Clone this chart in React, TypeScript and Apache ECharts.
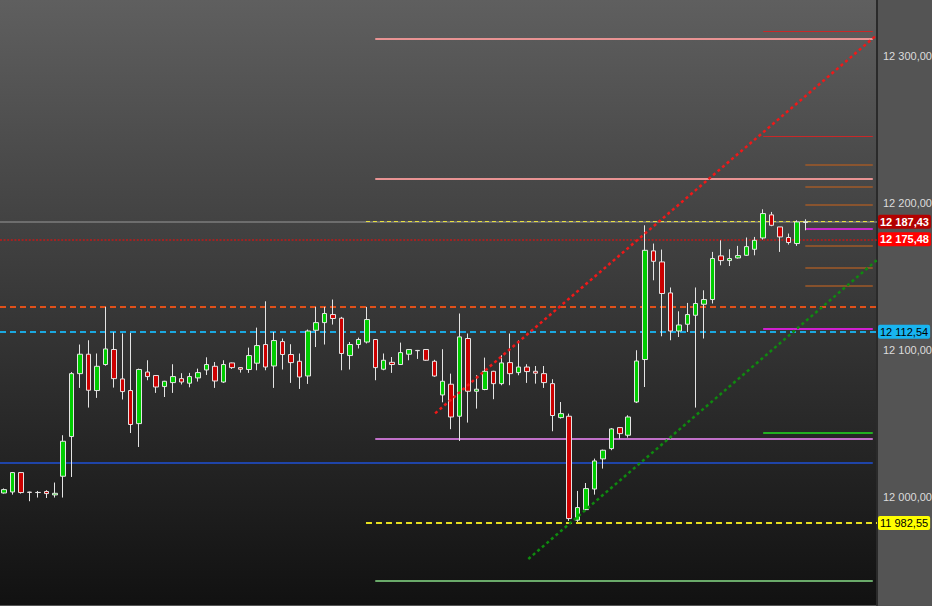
import React, { useEffect, useRef } from "react";
import * as echarts from "echarts";

// ---- data ----
const categories: string[] = [];
for (let i = 0; i < 104; i++) categories.push(String(i));

const opens = [
  12002.9, 12003.6, 12016.8, 12003.5, 12003.3, 12003.9, 12001.6, 12014.3, 12041.3, 12084.1,
  12097.3, 12072.6, 12090.3, 12100.5, 12080.5, 12072.6, 12050.1, 12085.2, 12082.8, 12075.3,
  12078.0, 12080.7, 12077.6, 12081.2, 12086.6, 12089.1, 12078.4, 12091.4, 12088.2, 12086.9,
  12091.2, 12103.9, 12089.3, 12105.9, 12097.1, 12092.5, 12082.5, 12113.6, 12118.8, 12124.3,
  12121.8, 12096.4, 12103.9, 12105.6, 12107.3, 12087.1, 12091.8, 12090.3, 12097.3, 12099.9,
  12100.5, 12092.5, 12069.6, 12076.9, 12055.1, 12108.0, 12072.1, 12073.3, 12085.7, 12077.3,
  12091.6, 12084.8, 12088.6, 12085.7, 12084.1, 12077.3, 12054.2, 12055.1, 11984.4, 11991.6,
  12005.6, 12026.1, 12033.1, 12047.4, 12042.2, 12064.8, 12093.7, 12167.6, 12160.1, 12139.0,
  12113.1, 12117.7, 12123.8, 12131.3, 12134.5, 12164.2, 12161.0, 12162.8, 12164.6, 12168.7,
  12176.4, 12192.1, 12183.9, 12176.7, 12172.6, 12186.9,
];
const closes = [
  12005.2, 12016.8, 12003.2, 12003.3, 12003.2, 12002.5, 12002.7, 12038.1, 12084.1, 12097.3,
  12072.8, 12089.1, 12100.9, 12080.7, 12071.9, 12049.5, 12086.9, 12082.1, 12075.0, 12078.9,
  12082.1, 12078.4, 12082.1, 12084.8, 12090.3, 12079.1, 12090.3, 12088.2, 12087.1, 12096.4,
  12103.2, 12088.6, 12106.6, 12097.1, 12091.6, 12081.8, 12113.1, 12118.8, 12125.0, 12121.6,
  12097.8, 12103.9, 12107.3, 12120.9, 12088.2, 12093.2, 12090.3, 12098.4, 12100.5, 12099.7,
  12093.2, 12082.5, 12078.9, 12054.6, 12109.1, 12072.1, 12073.5, 12085.7, 12077.3, 12091.4,
  12084.1, 12088.6, 12085.5, 12084.4, 12078.0, 12055.6, 12056.9, 11985.5, 11993.0, 12005.9,
  12024.7, 12032.0, 12046.5, 12043.3, 12054.6, 12092.7, 12168.0, 12160.5, 12138.6, 12113.1,
  12117.2, 12124.3, 12131.8, 12134.5, 12162.4, 12161.0, 12162.4, 12164.4, 12170.5, 12174.8,
  12193.0, 12185.0, 12177.1, 12173.3, 12187.3, 12187.43,
];
const lows = [
  12002.5, 12001.8, 12002.5, 11997.3, 11999.8, 11999.5, 11999.8, 11999.8, 12013.8, 12074.4,
  12061.0, 12067.6, 12089.5, 12074.6, 12066.5, 12043.7, 12034.2, 12079.6, 12071.0, 12068.2,
  12071.0, 12076.7, 12074.8, 12078.7, 12083.2, 12074.4, 12077.8, 12087.3, 12084.8, 12084.6,
  12086.4, 12086.4, 12074.4, 12086.9, 12077.8, 12073.7, 12077.1, 12102.2, 12103.9, 12117.5,
  12086.4, 12086.9, 12101.2, 12104.6, 12079.6, 12086.4, 12084.6, 12090.0, 12093.2, 12094.1,
  12092.8, 12082.0, 12064.6, 12046.3, 12038.3, 12050.8, 12060.3, 12072.8, 12066.7, 12076.2,
  12076.2, 12083.0, 12077.8, 12077.3, 12074.4, 12044.9, 12053.5, 11983.9, 11983.2, 11991.2,
  12001.8, 12019.5, 12032.0, 12039.9, 12040.6, 12064.1, 12075.0, 12147.6, 12109.5, 12106.8,
  12109.0, 12112.4, 12061.0, 12108.0, 12131.8, 12157.8, 12157.3, 12162.4, 12164.2, 12164.6,
  12175.3, 12184.4, 12166.9, 12171.9, 12171.0, 12181.6,
];
const highs = [
  12006.0, 12017.2, 12017.2, 12003.8, 12004.3, 12004.8, 12010.0, 12042.2, 12085.2, 12103.9,
  12106.8, 12097.8, 12129.5, 12112.2, 12111.4, 12111.8, 12087.5, 12093.2, 12083.0, 12079.2,
  12090.5, 12084.4, 12084.6, 12087.5, 12095.2, 12092.0, 12093.2, 12091.6, 12088.4, 12101.8,
  12115.4, 12133.3, 12112.4, 12108.0, 12104.1, 12097.8, 12114.1, 12129.5, 12129.5, 12134.5,
  12122.7, 12105.6, 12108.6, 12129.5, 12107.6, 12097.8, 12095.4, 12105.2, 12100.8, 12100.2,
  12100.8, 12093.5, 12100.7, 12084.1, 12125.0, 12111.4, 12083.0, 12095.0, 12086.0, 12096.6,
  12111.4, 12106.8, 12090.5, 12089.3, 12089.3, 12080.3, 12064.8, 12056.9, 12004.3, 12009.7,
  12026.3, 12032.4, 12047.1, 12047.6, 12055.8, 12100.0, 12185.0, 12172.6, 12168.5, 12142.7,
  12126.5, 12132.2, 12142.7, 12140.8, 12166.9, 12174.8, 12168.7, 12171.0, 12176.7, 12177.1,
  12195.9, 12194.1, 12183.9, 12179.4, 12188.4, 12189.1,
];

const redTrend = [[51.1, 12057.1], [103.3, 12313.6]];
const greenTrend = [[62.15, 11958.0], [103.46, 12161.2]];

const lastPrice = 12187.43;
const refPrice = 12175.48;
const orangeLevel = 12129.3;
const cyanLevel = 12112.54;
const blueLevel = 12023.8;
const yellowLevel = 11982.55;
const axisMin = 11926.71;
const axisMax = 12338.27;
const pinkLevels = [12312.2, 12217.0];
const orchidLevel = 12040.1;
const paleGreenLevel = 11943.5;
const thinRedLevels = [12317.0, 12245.8];
const brownLevels = [12226.5, 12210.9, 12199.3, 12171.4, 12155.8, 12144.2];
const magentaLevels = [12182.8, 12114.5];
const greenLevel = 12044.2;

const FONT = "'Liberation Sans', Arial, sans-serif";

function fmt(v: number): string {
  const [i, d] = v.toFixed(2).split(".");
  return i.replace(/\B(?=(\d{3})+(?!\d))/g, " ") + "," + d;
}

export default function App() {
  const ref = useRef<HTMLDivElement>(null);
  useEffect(() => {
    if (!ref.current) return;
    const chart = echarts.init(ref.current, undefined, { renderer: "svg" });

    const L = -0.5, MID = 42.9, S44 = 44, S90 = 90, S95 = 95, E = 103, R = 103.5;
    const noLabel = { show: false };
    const tag = (v: number, bg: string, color: string, bold: boolean) => ({
      show: true,
      position: "end",
      distance: 1,
      formatter: fmt(v),
      backgroundColor: bg,
      color,
      fontFamily: FONT,
      fontSize: 11,
      fontWeight: bold ? "bold" : "normal",
      padding: [2, 2, 1, 2],
      borderRadius: 2,
    });
    const seg = (x0: number, x1: number, y: number, lineStyle: any, label: any = noLabel) => [
      { coord: [x0, y], lineStyle, label },
      { coord: [x1, y] },
    ];

    const markData: any[] = [
      seg(L, R, lastPrice, { color: "#7c7c7c", width: 1.5, type: "solid" }),
      seg(MID, R, lastPrice, { color: "#e8e040", width: 1.2, type: [4, 3] }, tag(lastPrice, "#b30000", "#ffffff", true)),
      seg(L, R, refPrice, { color: "#c01818", width: 1.5, type: [2, 1.6] }, tag(refPrice, "#ff0000", "#ffffff", true)),
      seg(L, R, orangeLevel, { color: "#e0501a", width: 2, type: [6, 4] }),
      seg(L, R, cyanLevel, { color: "#1aa8e0", width: 2, type: [6, 4] }, tag(cyanLevel, "#18b4f0", "#000000", false)),
      seg(L, E, blueLevel, { color: "#1f44a8", width: 2, type: "solid" }),
      seg(MID, R, yellowLevel, { color: "#e6e020", width: 2, type: [6, 4] }, tag(yellowLevel, "#ffff00", "#000000", false)),
      seg(L, R, axisMin, { color: "#000000", width: 1, opacity: 0 }, tag(axisMin, "#ffffff", "#000000", true)),
      ...pinkLevels.map((v) => seg(S44, E, v, { color: "#e89393", width: 2, type: "solid" })),
      seg(S44, E, orchidLevel, { color: "#c070c8", width: 2, type: "solid" }),
      seg(S44, E, paleGreenLevel, { color: "#6aaa6a", width: 2, type: "solid" }),
      ...thinRedLevels.map((v) => seg(S90, E, v, { color: "#c82828", width: 1, type: "solid" })),
      ...brownLevels.map((v) => seg(S95, E, v, { color: "#a05a28", width: 1.5, type: "solid" })),
      seg(S95, E, magentaLevels[0], { color: "#c828c8", width: 2, type: "solid" }),
      seg(S90, E, magentaLevels[1], { color: "#d020d0", width: 2, type: "solid" }),
      seg(S90, E, greenLevel, { color: "#22b022", width: 2, type: "solid" }),
    ];

    const candleData = opens.map((o, i) => [o, closes[i], lows[i], highs[i]]);

    const option: any = {
      animation: false,
      backgroundColor: "#545454",
      grid: {
        left: 0,
        right: 55,
        top: 0,
        bottom: 1,
        show: true,
        borderWidth: 0,
        outerBoundsMode: "none",
        containLabel: false,
        backgroundColor: new echarts.graphic.LinearGradient(0, 0, 0, 1, [
          { offset: 0, color: "#5f5f5f" },
          { offset: 1, color: "#111111" },
        ]),
      },
      xAxis: [
        { type: "category", data: categories, show: false, boundaryGap: true },
        { type: "value", min: -0.5, max: 103.5, show: false },
      ],
      yAxis: {
        type: "value",
        position: "right",
        min: axisMin,
        max: axisMax,
        minInterval: 100,
        maxInterval: 100,
        splitLine: { show: false },
        axisTick: { show: false },
        axisLine: { show: true, onZero: false, lineStyle: { color: "#2a2a2a", width: 2 } },
        axisLabel: {
          color: "#dcdcdc",
          fontSize: 11,
          fontFamily: FONT,
          margin: 6,
          showMinLabel: false,
          showMaxLabel: false,
          formatter: (v: number) => fmt(v),
        },
      },
      series: [
        {
          type: "line",
          xAxisIndex: 1,
          yAxisIndex: 0,
          data: redTrend,
          symbol: "none",
          silent: true,
          z: 4,
          lineStyle: { color: "#f01818", width: 2.5, type: [3, 3] },
          markLine: {
            silent: true,
            symbol: ["none", "none"],
            animation: false,
            data: markData,
            z: 1,
          },
        },
        {
          type: "line",
          xAxisIndex: 1,
          yAxisIndex: 0,
          data: greenTrend,
          symbol: "none",
          silent: true,
          z: 4,
          lineStyle: { color: "#0f8a0f", width: 2.5, type: [3, 3] },
        },
        {
          type: "candlestick",
          xAxisIndex: 0,
          yAxisIndex: 0,
          data: candleData,
          barWidth: 5,
          z: 3,
          itemStyle: {
            color: "#00cc00",
            color0: "#cc0000",
            borderColor: "#e4e4e4",
            borderColor0: "#e4e4e4",
            borderWidth: 1,
          },
        },
      ],
    };
    chart.setOption(option);
    return () => chart.dispose();
  }, []);

  return (
    <div
      ref={ref}
      style={{ position: "absolute", left: 0, top: 0, width: 932, height: 606 }}
    />
  );
}
